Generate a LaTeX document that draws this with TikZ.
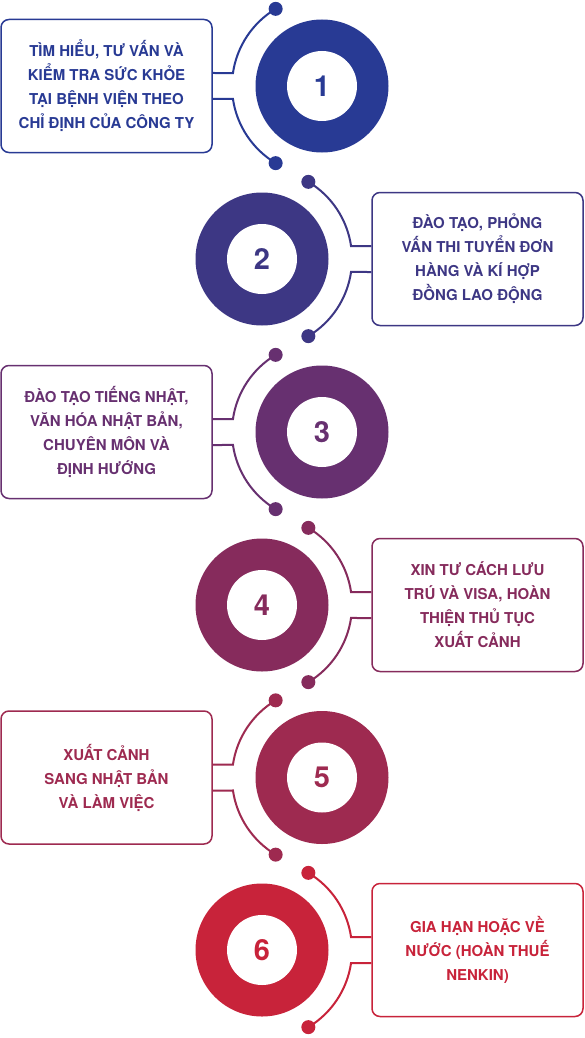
\documentclass[tikz,border=0pt]{standalone}
\usepackage{fontspec}
\setmainfont{TeX Gyre Heros}
\definecolor{cA}{RGB}{40,58,148}
\definecolor{cB}{RGB}{61,55,132}
\definecolor{cC}{RGB}{103,48,112}
\definecolor{cD}{RGB}{134,43,92}
\definecolor{cE}{RGB}{158,42,80}
\definecolor{cF}{RGB}{200,35,58}
\tikzset{
  ring/.style={circle,minimum size=133pt,inner sep=0pt},
  hole/.style={circle,fill=white,minimum size=70pt,inner sep=0pt,font=\bfseries\fontsize{29}{29}\selectfont},
  stepbox/.style={rectangle,rounded corners=8pt,minimum width=211pt,minimum height=133pt,line width=1.5pt,align=center,inner sep=0pt,font=\bfseries\fontsize{15}{24}\selectfont},
  conn/.style={line width=2pt}
}
\newcommand\leftstep[4]{%
  \node[ring,fill=#3] (c#1) at (322,-#2) {};
  \node[hole,text=#3] (n#1) at (c#1.center) {#1};
  \node[stepbox,draw=#3,text=#3] (b#1) at (106.5,-#2) {#4};
  \coordinate (t#1) at ([shift={(121:90)}]c#1.center);
  \coordinate (u#1) at ([shift={(239:90)}]c#1.center);
  \draw[conn,#3] (t#1) arc[start angle=121,end angle=171.7,radius=90] -- ([yshift=13pt]b#1.east);
  \draw[conn,#3] (u#1) arc[start angle=239,end angle=188.3,radius=90] -- ([yshift=-13pt]b#1.east);
  \fill[#3] (t#1) circle (7);
  \fill[#3] (u#1) circle (7);
}
\newcommand\rightstep[4]{%
  \node[ring,fill=#3] (c#1) at (262,-#2) {};
  \node[hole,text=#3] (n#1) at (c#1.center) {#1};
  \node[stepbox,draw=#3,text=#3] (b#1) at (477.5,-#2) {#4};
  \coordinate (t#1) at ([shift={(59:90)}]c#1.center);
  \coordinate (u#1) at ([shift={(-59:90)}]c#1.center);
  \draw[conn,#3] (t#1) arc[start angle=59,end angle=8.3,radius=90] -- ([yshift=13pt]b#1.west);
  \draw[conn,#3] (u#1) arc[start angle=-59,end angle=-8.3,radius=90] -- ([yshift=-13pt]b#1.west);
  \fill[#3] (t#1) circle (7);
  \fill[#3] (u#1) circle (7);
}
\begin{document}
\begin{tikzpicture}[x=1pt,y=1pt]
\useasboundingbox (0,0) rectangle (585,-1038);
\fill[white] (0,0) rectangle (585,-1038);
\leftstep{1}{86}{cA}{TÌM HIỂU, TƯ VẤN VÀ\\KIỂM TRA SỨC KHỎE\\TẠI BỆNH VIỆN THEO\\CHỈ ĐỊNH CỦA CÔNG TY}
\rightstep{2}{259}{cB}{ĐÀO TẠO, PHỎNG\\VẤN THI TUYỂN ĐƠN\\HÀNG VÀ KÍ HỢP\\ĐỒNG LAO ĐỘNG}
\leftstep{3}{432}{cC}{ĐÀO TẠO TIẾNG NHẬT,\\VĂN HÓA NHẬT BẢN,\\CHUYÊN MÔN VÀ\\ĐỊNH HƯỚNG}
\rightstep{4}{605}{cD}{XIN TƯ CÁCH LƯU\\TRÚ VÀ VISA, HOÀN\\THIỆN THỦ TỤC\\XUẤT CẢNH}
\leftstep{5}{777.5}{cE}{XUẤT CẢNH\\SANG NHẬT BẢN\\VÀ LÀM VIỆC}
\rightstep{6}{950}{cF}{GIA HẠN HOẶC VỀ\\NƯỚC (HOÀN THUẾ\\NENKIN)}
\end{tikzpicture}
\end{document}
